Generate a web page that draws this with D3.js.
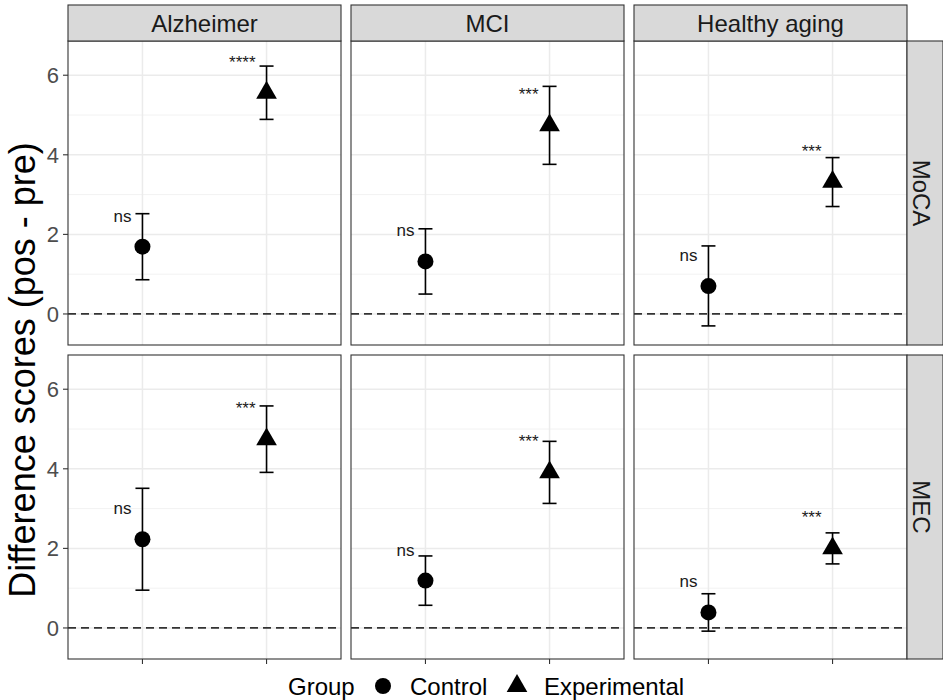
<!DOCTYPE html>
<html><head><meta charset="utf-8">
<script src="https://cdn.jsdelivr.net/npm/d3@7"></script>
<style>body{margin:0;background:#fff;} svg{display:block;font-family:Arial,"Liberation Sans",sans-serif;}</style>
</head><body>
<svg id="chart" width="943" height="700"></svg>
<script>
// ---- data ----
const colFacets = ["Alzheimer", "MCI", "Healthy aging"];
const rowFacets = ["MoCA", "MEC"];
const groups = ["Control", "Experimental"];
// means, lower, upper per row (rows: MoCA, MEC), per column
const controlMean  = [[1.69, 1.32, 0.70], [2.23, 1.19, 0.39]];
const controlLow   = [[0.86, 0.50, -0.30], [0.95, 0.57, -0.08]];
const controlHigh  = [[2.52, 2.14, 1.71], [3.51, 1.81, 0.86]];
const expMean      = [[5.56, 4.74, 3.32], [4.74, 3.91, 2.00]];
const expLow       = [[4.89, 3.76, 2.70], [3.91, 3.13, 1.61]];
const expHigh      = [[6.23, 5.72, 3.93], [5.58, 4.69, 2.39]];
const controlSig   = [["ns", "ns", "ns"], ["ns", "ns", "ns"]];
const expSig       = [["****", "***", "***"], ["***", "***", "***"]];
const yTicks = [0, 2, 4, 6];
const yMinor = [1, 3, 5];
const yDomain = [-0.78, 6.86];
const yTitle = "Difference scores (pos - pre)";
const legendTitle = "Group";

// ---- layout ----
const svg = d3.select("#chart");
const mLeft = 68, mTop = 41, pw = 273, ph = 304, gapX = 10, gapY = 10;
const stripH = 36, stripW = 36;

const x = d3.scalePoint().domain(groups).range([0, pw]).padding(0.6);
const y = d3.scaleLinear().domain(yDomain).range([ph, 0]);

const panels = [];
rowFacets.forEach((rf, r) => colFacets.forEach((cf, c) => {
  panels.push({r, c,
    pts: [
      {g: "Control", m: controlMean[r][c], lo: controlLow[r][c], hi: controlHigh[r][c], lab: controlSig[r][c]},
      {g: "Experimental", m: expMean[r][c], lo: expLow[r][c], hi: expHigh[r][c], lab: expSig[r][c]}
    ]});
}));

const tri = d3.symbol().type(d3.symbolTriangle).size(185);

panels.forEach(p => {
  const gx = mLeft + p.c * (pw + gapX), gy = mTop + p.r * (ph + gapY);
  const g = svg.append("g").attr("transform", `translate(${gx},${gy})`);
  g.append("rect").attr("width", pw).attr("height", ph).attr("fill", "#fff");
  g.selectAll(".minor").data(yMinor).join("line")
    .attr("x1", 0).attr("x2", pw).attr("y1", d => y(d)).attr("y2", d => y(d))
    .attr("stroke", "#F2F2F2").attr("stroke-width", 1);
  g.selectAll(".major").data(yTicks).join("line")
    .attr("x1", 0).attr("x2", pw).attr("y1", d => y(d)).attr("y2", d => y(d))
    .attr("stroke", "#EBEBEB").attr("stroke-width", 1.5);
  g.selectAll(".vgrid").data(groups).join("line")
    .attr("x1", d => x(d)).attr("x2", d => x(d)).attr("y1", 0).attr("y2", ph)
    .attr("stroke", "#EBEBEB").attr("stroke-width", 1.5);
  g.append("line").attr("x1", 0).attr("x2", pw).attr("y1", y(0)).attr("y2", y(0))
    .attr("stroke", "#333").attr("stroke-width", 1.7).attr("stroke-dasharray", "8,5");
  p.pts.forEach(d => {
    const cx = x(d.g);
    g.append("line").attr("x1", cx).attr("x2", cx).attr("y1", y(d.lo)).attr("y2", y(d.hi))
      .attr("stroke", "#000").attr("stroke-width", 1.6);
    [d.lo, d.hi].forEach(v => g.append("line").attr("x1", cx - 7).attr("x2", cx + 7)
      .attr("y1", y(v)).attr("y2", y(v)).attr("stroke", "#000").attr("stroke-width", 1.6));
    if (d.g === "Control") {
      g.append("circle").attr("cx", cx).attr("cy", y(d.m)).attr("r", 8).attr("fill", "#000");
    } else {
      g.append("path").attr("d", tri).attr("transform", `translate(${cx},${y(d.m)})`).attr("fill", "#000");
    }
    g.append("text").attr("x", cx - 11).attr("y", y(d.m) - 25)
      .attr("text-anchor", "end").attr("font-size", 17)
      .attr("fill", "#1A1A1A").text(d.lab);
  });
  g.append("rect").attr("width", pw).attr("height", ph).attr("fill", "none")
    .attr("stroke", "#333").attr("stroke-width", 1.1);
  if (p.c === 0) {
    yTicks.forEach(t => {
      g.append("line").attr("x1", -5).attr("x2", 0).attr("y1", y(t)).attr("y2", y(t))
        .attr("stroke", "#333").attr("stroke-width", 1.1);
      g.append("text").attr("x", -9).attr("y", y(t)).attr("dy", "0.36em")
        .attr("text-anchor", "end").attr("font-size", 22).attr("fill", "#4D4D4D").text(t);
    });
  }
  if (p.r === rowFacets.length - 1) {
    groups.forEach(gr => g.append("line").attr("x1", x(gr)).attr("x2", x(gr))
      .attr("y1", ph).attr("y2", ph + 5).attr("stroke", "#333").attr("stroke-width", 1.1));
  }
  if (p.r === 0) {
    g.append("rect").attr("x", 0).attr("y", -stripH).attr("width", pw).attr("height", stripH)
      .attr("fill", "#D9D9D9").attr("stroke", "#333").attr("stroke-width", 1.1);
    g.append("text").attr("x", pw / 2).attr("y", -stripH / 2).attr("dy", "0.36em")
      .attr("text-anchor", "middle").attr("font-size", 24).attr("fill", "#1A1A1A").text(colFacets[p.c]);
  }
  if (p.c === colFacets.length - 1) {
    g.append("rect").attr("x", pw).attr("y", 0).attr("width", stripW).attr("height", ph)
      .attr("fill", "#D9D9D9").attr("stroke", "#333").attr("stroke-width", 1.1);
    g.append("text").attr("transform", `translate(${pw + 15},${ph / 2}) rotate(90)`)
      .attr("dy", "0.36em").attr("text-anchor", "middle").attr("font-size", 24)
      .attr("fill", "#1A1A1A").text(rowFacets[p.r]);
  }
});

svg.append("text").attr("transform", `translate(22,370) rotate(-90)`)
  .attr("dy", "0.36em").attr("text-anchor", "middle").attr("font-size", 36).attr("fill", "#000").text(yTitle);

const ly = 686;
const lg = svg.append("g");
lg.append("text").attr("x", 288).attr("y", ly).attr("dy", "0.36em").attr("font-size", 24).attr("fill", "#000").text(legendTitle);
lg.append("circle").attr("cx", 383).attr("cy", ly).attr("r", 8).attr("fill", "#000");
lg.append("text").attr("x", 410).attr("y", ly).attr("dy", "0.36em").attr("font-size", 24).attr("fill", "#000").text(groups[0]);
lg.append("path").attr("d", tri).attr("transform", `translate(517,${ly})`).attr("fill", "#000");
lg.append("text").attr("x", 544).attr("y", ly).attr("dy", "0.36em").attr("font-size", 24).attr("fill", "#000").text(groups[1]);
</script>
</body></html>
